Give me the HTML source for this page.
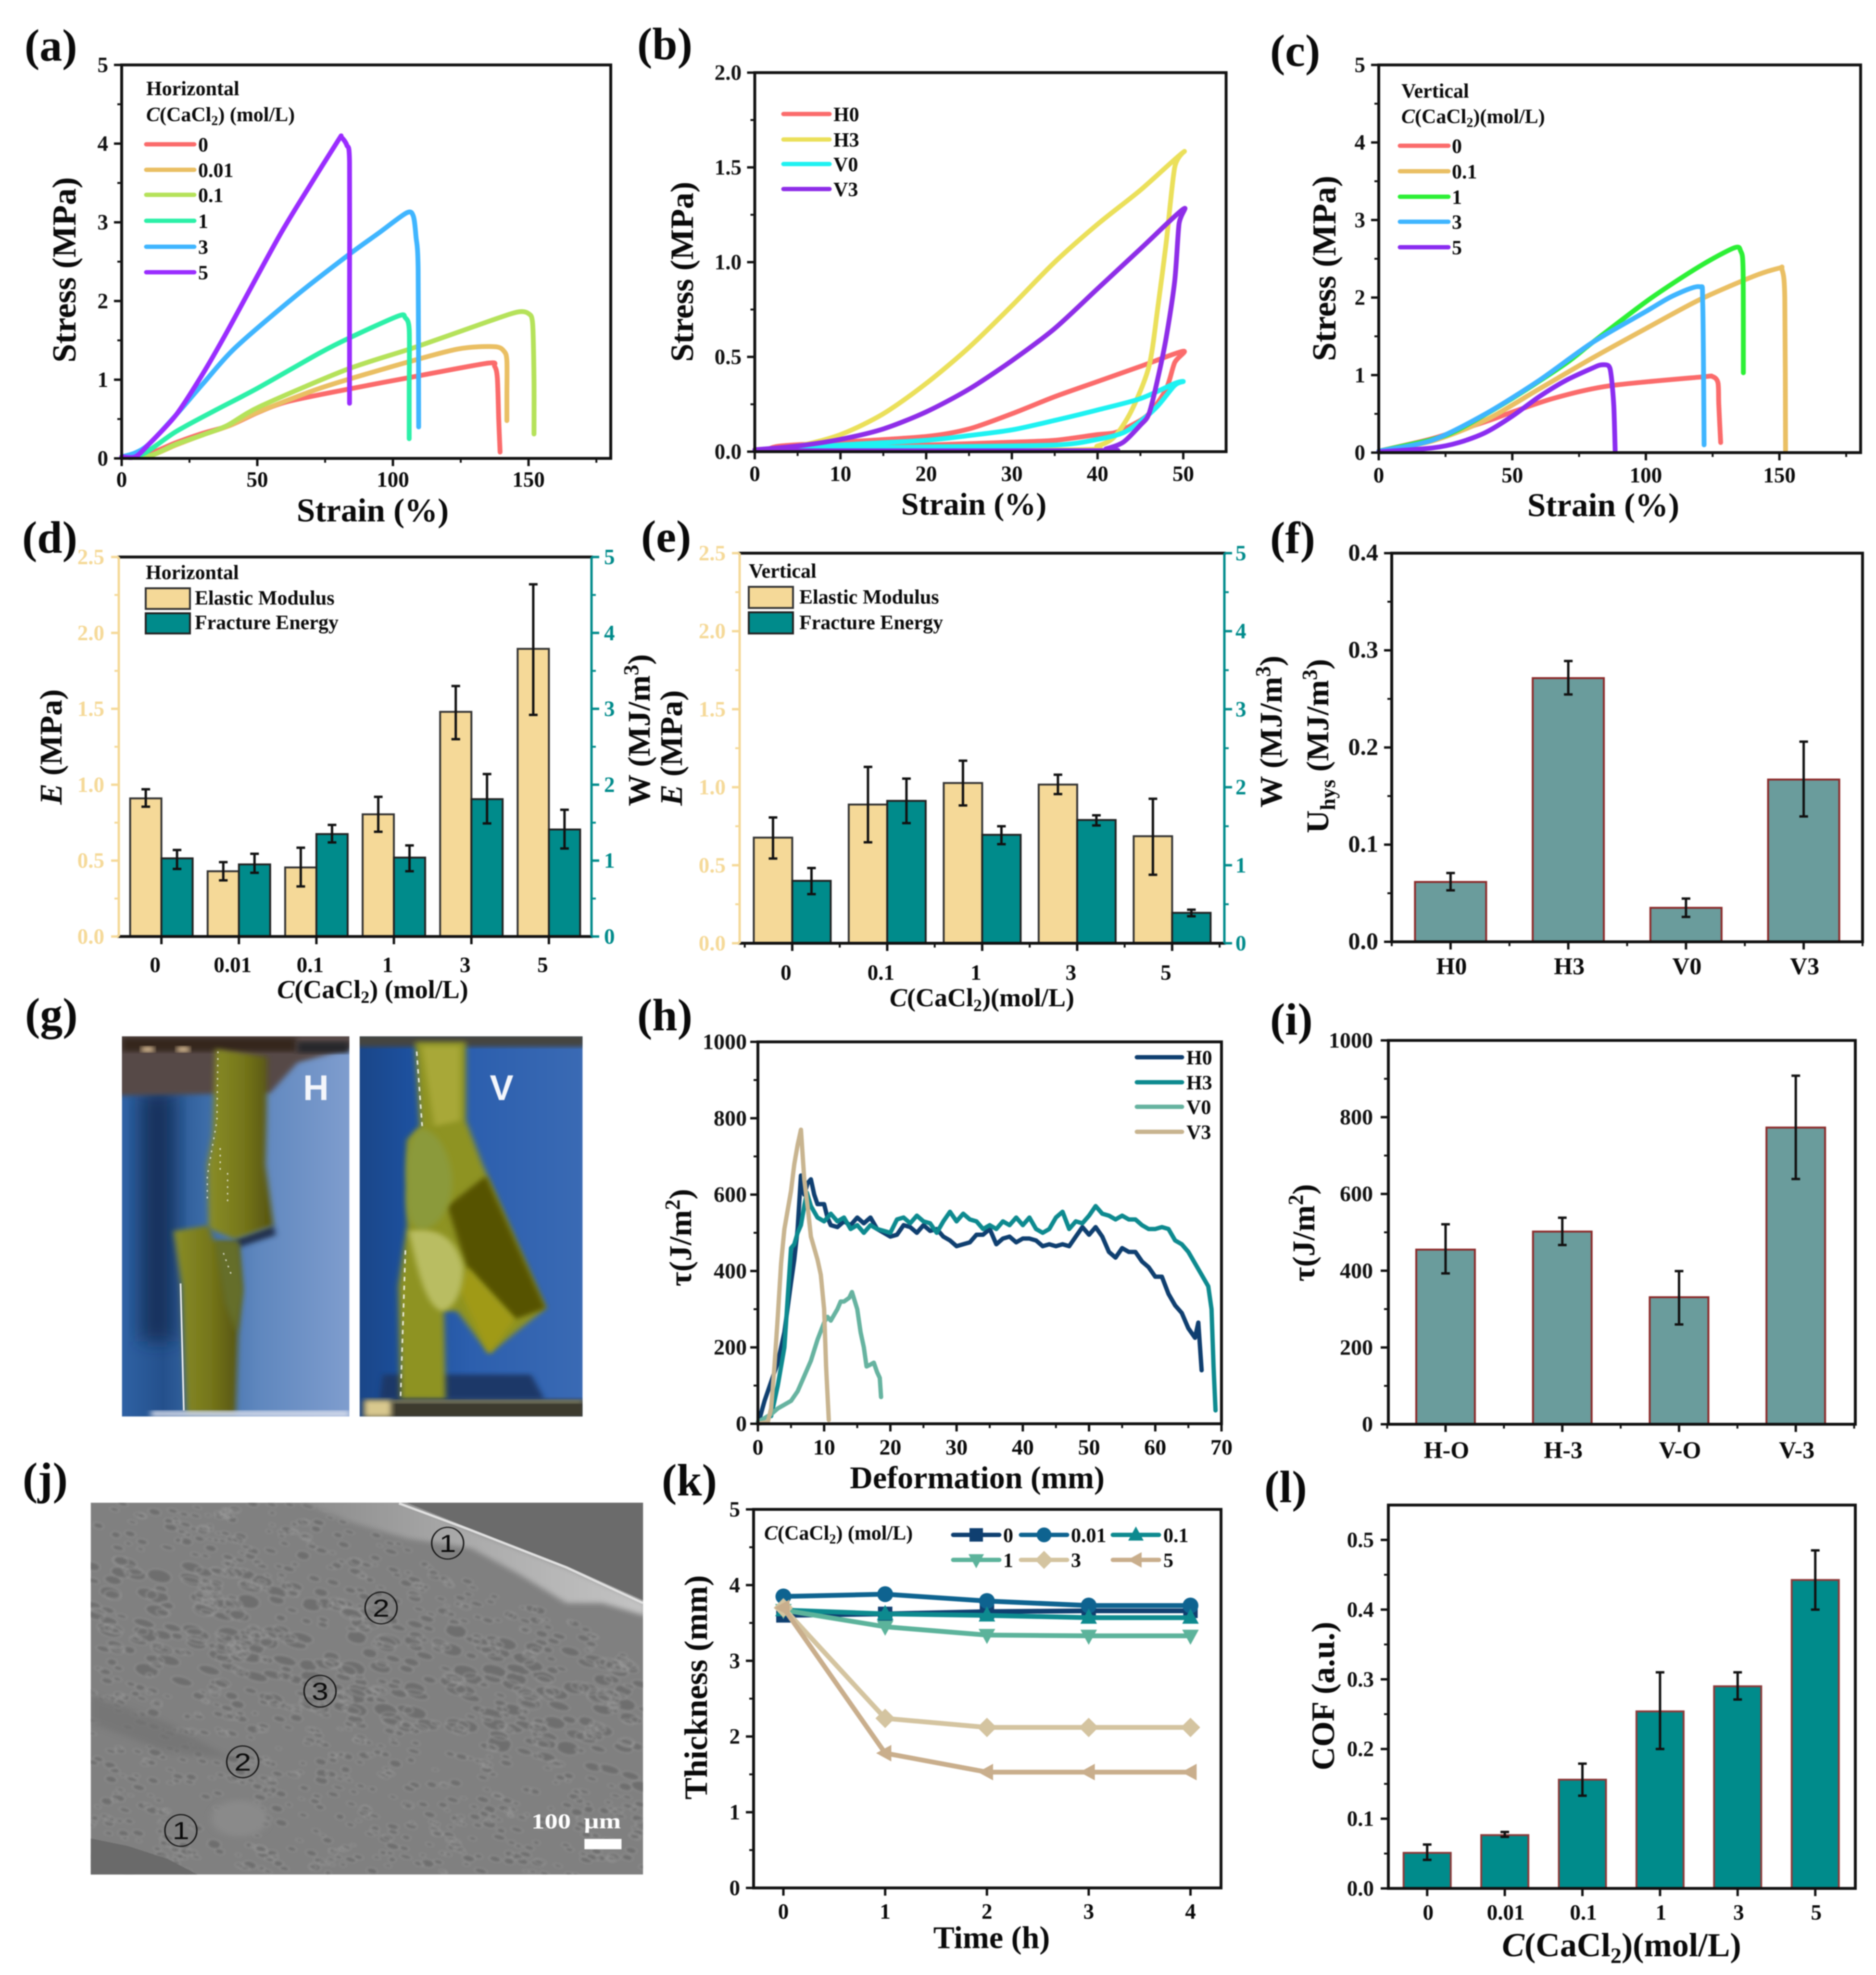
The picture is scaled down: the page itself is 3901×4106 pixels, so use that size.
<!DOCTYPE html>
<html lang="en">
<head>
<meta charset="utf-8">
<title>Mechanical properties of CaCl2 treated hydrogels</title>
<style>
html,body{margin:0;padding:0;background:#fff;}
#figure{display:block;width:3901px;height:4106px;filter:blur(1.2px);}
text{font-family:"Liberation Serif","DejaVu Serif",serif;font-weight:bold;fill:#0a0a0a;}
.pl{font-size:94px;}
.at{font-size:66px;}
.lg{font-size:42px;}
</style>
</head>
<body>
<svg id="figure" xmlns="http://www.w3.org/2000/svg" width="3901" height="4106" viewBox="0 0 3901 4106">
<defs>
<linearGradient id="hBg" x1="0" x2="1" y1="0" y2="0"><stop offset="0" stop-color="#2f62a4"/><stop offset=".18" stop-color="#24508c"/><stop offset=".35" stop-color="#3a6aa6"/><stop offset=".6" stop-color="#5f87be"/><stop offset="1" stop-color="#7f9dce"/></linearGradient>
<linearGradient id="vBg" x1="0" x2="1" y1="0" y2="0"><stop offset="0" stop-color="#1a4688"/><stop offset=".2" stop-color="#1c4f9c"/><stop offset=".5" stop-color="#2c5fae"/><stop offset="1" stop-color="#3a6ab4"/></linearGradient>
<linearGradient id="oliveH" x1="0" x2="1" y1="0" y2="0"><stop offset="0" stop-color="#8a8e28"/><stop offset=".55" stop-color="#75761a"/><stop offset="1" stop-color="#54510e"/></linearGradient>
<linearGradient id="semEdge" x1="0" x2="1" y1="0" y2="0"><stop offset="0" stop-color="#8a8a8a"/><stop offset=".45" stop-color="#a8a8a8"/><stop offset="1" stop-color="#c4c4c4"/></linearGradient>
<filter id="soft" x="-15%" y="-15%" width="130%" height="130%"><feGaussianBlur stdDeviation="9"/></filter>
<filter id="softBig" x="-40%" y="-40%" width="180%" height="180%"><feGaussianBlur stdDeviation="30"/></filter>
<filter id="semBlur" x="-5%" y="-5%" width="110%" height="110%"><feGaussianBlur stdDeviation="3"/></filter>
<filter id="semBlur2" x="-10%" y="-10%" width="120%" height="120%"><feGaussianBlur stdDeviation="8"/></filter>
<clipPath id="clipH"><rect x="80" y="95" width="706" height="1377"/></clipPath>
<clipPath id="clipV"><rect x="818" y="95" width="692" height="1377"/></clipPath>
<clipPath id="clipSem"><rect x="107" y="110" width="1385" height="1148"/></clipPath>
</defs>

<!-- panel letters -->
<text class="pl" x="51" y="126">(a)</text>
<text class="pl" x="1325" y="123">(b)</text>
<text class="pl" x="2641" y="137">(c)</text>
<text class="pl" x="46" y="1149">(d)</text>
<text class="pl" x="1333" y="1147">(e)</text>
<text class="pl" x="2641" y="1150">(f)</text>
<text class="pl" x="52" y="2140">(g)</text>
<text class="pl" x="1325" y="2142">(h)</text>
<text class="pl" x="2641" y="2151">(i)</text>
<text class="pl" x="47" y="3106">(j)</text>
<text class="pl" x="1376" y="3109">(k)</text>
<text class="pl" x="2629" y="3123">(l)</text>

<!-- photo panel g -->
<g transform="translate(200 2100) scale(.6698 .574)">
<g clip-path="url(#clipH)">
<rect x="80" y="95" width="706" height="1377" fill="url(#hBg)"/>
<rect x="140" y="300" width="100" height="900" fill="#15305c" filter="url(#softBig)"/>
<polygon points="60,80 800,80 800,135 625,190 540,300 60,310" fill="#564846" filter="url(#soft)"/>
<rect x="80" y="100" width="540" height="50" fill="#34261f" filter="url(#soft)"/>
<rect x="625" y="115" width="161" height="40" fill="#26252a" filter="url(#soft)"/>
<rect x="140" y="132" width="40" height="20" fill="#e2c49a" filter="url(#soft)"/>
<rect x="250" y="132" width="40" height="20" fill="#e2c49a" filter="url(#soft)"/>
<polygon points="430,830 550,780 558,815 440,860" fill="#22304f" filter="url(#soft)"/>
<polygon points="370,140 530,170 528,400 525,560 550,780 430,830 350,790 345,560 362,450" fill="url(#oliveH)" filter="url(#soft)"/>
<polygon points="240,800 350,780 365,835 440,840 450,1000 440,1170 432,1460 280,1460 265,1000" fill="url(#oliveH)" filter="url(#soft)"/>
<polygon points="370,840 440,840 455,1020 435,1170 400,1060" fill="#656e2a" filter="url(#soft)"/>
<path d="M378 150 L375 400 L345 600 L345 690 M385 500 L385 580 M408 590 L408 700 M395 880 L420 960" fill="none" stroke="#fff" stroke-width="4" stroke-dasharray="6 18" opacity=".8"/>
<path d="M262 990 L272 1450" fill="none" stroke="#f4f4f4" stroke-width="5"/>
<rect x="170" y="1452" width="616" height="20" fill="#dfe2ee" filter="url(#soft)"/>
</g>
</g>
<g transform="translate(200 2100) scale(.6698 .574)">
<g clip-path="url(#clipV)">
<rect x="818" y="95" width="692" height="1377" fill="url(#vBg)"/>
<rect x="800" y="85" width="720" height="48" fill="#45453f" filter="url(#soft)"/>
<polygon points="890,1320 1350,1320 1392,1410 880,1410" fill="#1d3768" filter="url(#soft)"/>
<polygon points="990,115 1148,115 1148,400 1200,560 1395,1080 1220,1245 1120,1090 1080,1090 1085,1410 945,1410 938,1000 965,780 965,470 1005,420" fill="#8e9322" filter="url(#soft)"/>
<polygon points="1010,130 1130,130 1130,400 1050,420" fill="#a8a838" filter="url(#soft)"/>
<polygon points="1090,710 1210,600 1395,1080 1300,1120 1150,930" fill="#565305" filter="url(#soft)"/>
<polygon points="1130,1020 1150,930 1300,1120 1220,1245" fill="#a09a12" filter="url(#soft)"/>
<path d="M1010 430 C1075 440 1110 560 1105 640 C1100 720 1060 790 1010 795 C970 790 960 720 965 640 C960 560 965 450 1010 430 Z" fill="#8b9a3a" filter="url(#soft)"/>
<path d="M970 800 C1040 790 1110 800 1140 930 C1140 1020 1110 1085 1070 1090 C1020 1060 1000 950 970 800 Z" fill="#b9bd62" filter="url(#soft)"/>
<path d="M995 150 L1012 420 M960 870 L945 1400" fill="none" stroke="#fff" stroke-width="5" stroke-dasharray="16 16" opacity=".85"/>
<rect x="832" y="1412" width="690" height="70" fill="#3c3a2e" filter="url(#soft)"/>
<rect x="832" y="1412" width="85" height="62" fill="#d8c88e" filter="url(#soft)"/>
<rect x="917" y="1412" width="593" height="12" fill="#8f8a62" filter="url(#soft)"/>
</g>
</g>
<text x="657" y="2287" text-anchor="middle" style="font-family:'Liberation Sans',sans-serif;font-size:74px;fill:#f4f6fb">H</text>
<text x="1043" y="2287" text-anchor="middle" style="font-family:'Liberation Sans',sans-serif;font-size:74px;fill:#f4f6fb">V</text>

<!-- SEM panel j -->
<g transform="translate(100 3050) scale(.8292 .6734)">
<g clip-path="url(#clipSem)">
<rect x="107" y="110" width="1385" height="1148" fill="#808080"/>
<g id="semTexture" filter="url(#semBlur)"></g>
<polygon points="620,100 880,100 1050,190 1300,310 1500,420 1500,460 1390,420 1300,420 1180,330 1060,250 900,220 760,170" fill="url(#semEdge)" filter="url(#semBlur2)"/>
<polygon points="880,100 1500,100 1500,415 1300,305 1050,185" fill="#6b6b6b"/>
<polyline points="880,112 1050,190 1300,310 1492,420" fill="none" stroke="#e0e0e0" stroke-width="7"/>
<polygon points="100,1145 200,1170 300,1210 385,1265 100,1265" fill="#6a6a6a"/>
<polygon points="107,700 300,790 460,900 300,880 107,790" fill="#737373" filter="url(#soft)" opacity=".75"/>
<ellipse cx="480" cy="1085" rx="70" ry="55" fill="#8a8a8a" filter="url(#soft)"/>
</g>
<g><ellipse cx="1002" cy="235" rx="40" ry="49" fill="none" stroke="#111" stroke-width="3.5"/><text x="1002" y="262" text-anchor="middle" style="font-family:'Liberation Sans',sans-serif;font-weight:normal;font-size:76px">1</text></g>
<g><ellipse cx="835" cy="435" rx="40" ry="49" fill="none" stroke="#111" stroke-width="3.5"/><text x="835" y="462" text-anchor="middle" style="font-family:'Liberation Sans',sans-serif;font-weight:normal;font-size:76px">2</text></g>
<g><ellipse cx="682" cy="692" rx="40" ry="49" fill="none" stroke="#111" stroke-width="3.5"/><text x="682" y="719" text-anchor="middle" style="font-family:'Liberation Sans',sans-serif;font-weight:normal;font-size:76px">3</text></g>
<g><ellipse cx="488" cy="910" rx="40" ry="49" fill="none" stroke="#111" stroke-width="3.5"/><text x="488" y="937" text-anchor="middle" style="font-family:'Liberation Sans',sans-serif;font-weight:normal;font-size:76px">2</text></g>
<g><ellipse cx="333" cy="1122" rx="40" ry="49" fill="none" stroke="#111" stroke-width="3.5"/><text x="333" y="1149" text-anchor="middle" style="font-family:'Liberation Sans',sans-serif;font-weight:normal;font-size:76px">1</text></g>
<rect x="1345" y="1148" width="93" height="32" fill="#fff"/>
<text x="1212" y="1115" style="font-size:66px;fill:#fff" xml:space="preserve">100  μm</text>
</g>

<!-- axis titles -->
<text class="at" style="font-size:69px" x="775" y="1084" text-anchor="middle">Strain (%)</text>
<text class="at" style="font-size:70px" transform="translate(157 561) rotate(-90)" text-anchor="middle">Stress (MPa)</text>
<text class="at" x="2025" y="1070" text-anchor="middle">Strain (%)</text>
<text class="at" style="font-size:68px" transform="translate(1441 565) rotate(-90)" text-anchor="middle">Stress (MPa)</text>
<text class="at" style="font-size:69px" x="3334" y="1073" text-anchor="middle">Strain (%)</text>
<text class="at" style="font-size:70px" transform="translate(2777 558) rotate(-90)" text-anchor="middle">Stress (MPa)</text>

<text x="775" y="2075" text-anchor="middle" style="font-size:54px"><tspan font-style="italic">C</tspan>(CaCl<tspan dy="10" font-size="36">2</tspan><tspan dy="-10">) (mol/L)</tspan></text>
<text class="at" transform="translate(128 1553) rotate(-90)" text-anchor="middle"><tspan font-style="italic">E</tspan> (MPa)</text>
<text class="at" transform="translate(1351 1518) rotate(-90)" text-anchor="middle">W (MJ/m<tspan dy="-24" font-size="44">3</tspan><tspan dy="24">)</tspan></text>
<text x="2042" y="2092" text-anchor="middle" style="font-size:54px"><tspan font-style="italic">C</tspan>(CaCl<tspan dy="10" font-size="36">2</tspan><tspan dy="-10">)(mol/L)</tspan></text>
<text class="at" transform="translate(1418 1555) rotate(-90)" text-anchor="middle"><tspan font-style="italic">E</tspan> (MPa)</text>
<text class="at" transform="translate(2665 1521) rotate(-90)" text-anchor="middle">W (MJ/m<tspan dy="-24" font-size="44">3</tspan><tspan dy="24">)</tspan></text>
<text class="at" transform="translate(2762 1551) rotate(-90)" text-anchor="middle">U<tspan dy="14" font-size="44">hys</tspan><tspan dy="-14"> (MJ/m</tspan><tspan dy="-24" font-size="44">3</tspan><tspan dy="24">)</tspan></text>

<text class="at" x="2032" y="3094" text-anchor="middle">Deformation (mm)</text>
<text class="at" transform="translate(1437 2573) rotate(-90)" text-anchor="middle">τ(J/m<tspan dy="-24" font-size="44">2</tspan><tspan dy="24">)</tspan></text>
<text class="at" transform="translate(2733 2563) rotate(-90)" text-anchor="middle">τ(J/m<tspan dy="-24" font-size="44">2</tspan><tspan dy="24">)</tspan></text>
<text class="at" x="2062" y="4050" text-anchor="middle">Time (h)</text>
<text transform="translate(1470 3508) rotate(-90)" text-anchor="middle" style="font-size:68px">Thickness (mm)</text>
<text x="3372" y="4067" text-anchor="middle" style="font-size:70px"><tspan font-style="italic">C</tspan>(CaCl<tspan dy="14" font-size="46">2</tspan><tspan dy="-14">)(mol/L)</tspan></text>
<text transform="translate(2774 3526) rotate(-90)" text-anchor="middle" style="font-size:68px">COF (a.u.)</text>

<g id="charts"></g>

<!-- legends -->
<g>
<text class="lg" x="304" y="198">Horizontal</text>
<text class="lg" x="304" y="252"><tspan font-style="italic">C</tspan>(CaCl<tspan dy="8" font-size="28">2</tspan><tspan dy="-8">) (mol/L)</tspan></text>
</g>
<g>
<text class="lg" x="2914" y="203">Vertical</text>
<text class="lg" x="2914" y="256"><tspan font-style="italic">C</tspan>(CaCl<tspan dy="8" font-size="28">2</tspan><tspan dy="-8">)(mol/L)</tspan></text>
</g>
<g>
<text class="lg" x="303" y="1204">Horizontal</text>
<rect x="303" y="1223" width="92" height="43" fill="#f5d998" stroke="#333" stroke-width="4"/>
<rect x="303" y="1275" width="92" height="42" fill="#008b8b" stroke="#222" stroke-width="4"/>
<text class="lg" x="405" y="1257">Elastic Modulus</text>
<text class="lg" x="405" y="1308">Fracture Energy</text>
</g>
<g>
<text class="lg" x="1557" y="1201">Vertical</text>
<rect x="1557" y="1220" width="92" height="44" fill="#f5d998" stroke="#333" stroke-width="4"/>
<rect x="1557" y="1273" width="92" height="44" fill="#008b8b" stroke="#222" stroke-width="4"/>
<text class="lg" x="1662" y="1255">Elastic Modulus</text>
<text class="lg" x="1662" y="1308">Fracture Energy</text>
</g>
<text class="lg" x="1589" y="3201"><tspan font-style="italic">C</tspan>(CaCl<tspan dy="8" font-size="28">2</tspan><tspan dy="-8">) (mol/L)</tspan></text>
</svg>

<script>
/* ---------- panel (a) ---------- */
const aXTicks=[0,50,100,150];
const aYTicks=[0,1,2,3,4,5];
const aSeriesNames=['0','0.01','0.1','1','3','5'];
const aStrain0=[0,10,20,30,40,50,61,82,108,135,137.5,138.5,139,139.5];
const aStress0=[0.02,0.06,0.2,0.32,0.42,0.58,0.72,0.87,1.04,1.21,1.17,1.02,0.5,0.08];
const aStrain001=[0,10,20,30,40,49,73,102,124,137.5,141,142,142,142];
const aStress001=[0.02,0.03,0.17,0.3,0.42,0.57,0.89,1.19,1.39,1.42,1.36,1.24,0.8,0.48];
const aStrain01=[0,10,20,30,39,51,83,108,136,146,150,151.5,152,152];
const aStress01=[0.02,0.03,0.18,0.3,0.42,0.66,1.13,1.41,1.75,1.86,1.84,1.71,1.0,0.31];
const aStrain1=[0,8,20,35,50,73,84.5,102,104.5,106,106,106];
const aStress1=[0.02,0.06,0.34,0.62,0.89,1.34,1.54,1.81,1.79,1.64,0.9,0.25];
const aStrain3=[0,5,10,20,30,42,64,83,95,105,107.5,108.5,109.3,109.5];
const aStress3=[0.02,0.07,0.18,0.55,0.95,1.41,2.06,2.57,2.87,3.12,3.08,2.82,2.4,0.4];
const aStrain5=[0,5,10,20,30,39,58,70,80,81,83,84,84,84];
const aStress5=[0.02,0.02,0.18,0.55,1.08,1.62,2.82,3.5,4.05,4.08,3.98,3.77,2.2,0.7];

/* ---------- panel (b) ---------- */
const bXTicks=[0,10,20,30,40,50];
const bYTicks=[0,0.5,1,1.5,2];
const bYLabels=['0.0','0.5','1.0','1.5','2.0'];
const bSeriesNames=['H0','H3','V0','V3'];
const bStrainH0=[1.5,3,10,20,25,30,35,40,45,50,49,48,46,44,42,40,35,30,20,10,3];
const bStressH0=[0.01,0.03,0.05,0.08,0.12,0.2,0.29,0.37,0.45,0.53,0.47,0.33,0.2,0.14,0.1,0.09,0.06,0.05,0.035,0.02,0.01];
const bStrainH3=[0,5,10,15,20,25,30,35,40,45,50,49,48,47,46,44,42,40,37,0];
const bStressH3=[0.01,0.03,0.09,0.2,0.36,0.55,0.77,1,1.2,1.38,1.58,1.5,1.1,0.75,0.45,0.22,0.08,0.03,0.01,0.01];
const bStrainV0=[3.5,10,20,25,30,35,40,45,49,50,49,47,45,43,40,35,20,10,3.5];
const bStressV0=[0.01,0.035,0.06,0.085,0.115,0.165,0.22,0.28,0.36,0.37,0.35,0.24,0.16,0.1,0.065,0.035,0.025,0.02,0.01];
const bStrainV3=[0,5,10,15,20,25,30,35,40,45,50,49.5,49,48,47,46,45,43,41,39.5,0];
const bStressV3=[0.01,0.03,0.065,0.12,0.21,0.33,0.48,0.65,0.86,1.07,1.28,1.2,0.9,0.6,0.38,0.2,0.14,0.05,0.015,0.005,0.005];

/* ---------- panel (c) ---------- */
const cXTicks=[0,50,100,150];
const cYTicks=[0,1,2,3,4,5];
const cSeriesNames=['0','0.1','1','3','5'];
const cStrain0=[0,20,40,49,65.4,86,120.6,125,127,127.3,128];
const cStress0=[0.02,0.18,0.4,0.51,0.7,0.86,0.975,0.98,0.9,0.62,0.13];
const cStrain01=[0,20,40,60,80,100,120,140,150,151,152,152.3];
const cStress01=[0.02,0.15,0.42,0.82,1.22,1.6,1.97,2.27,2.38,2.36,2.0,0.03];
const cStrain1=[0,20,30,50,70,80,101,120,133,135.5,136.4,136.5];
const cStress1=[0.02,0.17,0.3,0.7,1.15,1.42,1.97,2.4,2.64,2.6,2.36,1.03];
const cStrain3=[0,20,40,60,80,100,110,120,121.3,121.8];
const cStress3=[0.02,0.16,0.5,0.93,1.42,1.82,2.02,2.14,1.92,0.1];
const cStrain5=[0,20,30,40,50,60,70,80,83,86,87,88,88.5];
const cStress5=[0.01,0.06,0.13,0.26,0.47,0.72,0.93,1.09,1.13,1.12,1.0,0.6,0.03];

/* ---------- panel (d) ---------- */
const dCategories=['0','0.01','0.1','1','3','5'];
const dLeftTicks=[0,0.5,1,1.5,2,2.5];
const dLeftLabels=['0.0','0.5','1.0','1.5','2.0','2.5'];
const dRightTicks=[0,1,2,3,4,5];
const dModulus=[0.91,0.43,0.455,0.805,1.48,1.895];
const dModulusHigh=[0.97,0.49,0.585,0.92,1.65,2.32];
const dModulusLow=[0.855,0.37,0.33,0.69,1.3,1.46];
const dEnergy=[1.03,0.95,1.35,1.04,1.81,1.41];
const dEnergyHigh=[1.14,1.09,1.47,1.2,2.14,1.67];
const dEnergyLow=[0.89,0.84,1.24,0.86,1.49,1.16];

/* ---------- panel (e) ---------- */
const eCategories=['0','0.1','1','3','5'];
const eLeftTicks=[0,0.5,1,1.5,2,2.5];
const eLeftLabels=['0.0','0.5','1.0','1.5','2.0','2.5'];
const eRightTicks=[0,1,2,3,4,5];
const eModulus=[0.677,0.889,1.027,1.017,0.686];
const eModulusHigh=[0.806,1.13,1.17,1.08,0.926];
const eModulusLow=[0.543,0.647,0.883,0.956,0.439];
const eEnergy=[0.8,1.825,1.39,1.58,0.39];
const eEnergyHigh=[0.964,2.11,1.5,1.64,0.43];
const eEnergyLow=[0.63,1.54,1.27,1.51,0.346];

/* ---------- panel (f) ---------- */
const fCategories=['H0','H3','V0','V3'];
const fYTicks=[0,0.1,0.2,0.3,0.4];
const fYLabels=['0.0','0.1','0.2','0.3','0.4'];
const fHysteresis=[0.0616,0.2714,0.035,0.167];
const fHigh=[0.0708,0.289,0.0445,0.206];
const fLow=[0.053,0.2546,0.0256,0.129];

/* ---------- panel (h) ---------- */
const hXTicks=[0,10,20,30,40,50,60,70];
const hYTicks=[0,200,400,600,800,1000];
const hSeriesNames=['H0','H3','V0','V3'];
const hDefH0=[0.2,1,2,3,4,5,5.5,6,6.5,7,7.5,8,8.5,9,10,10.5,11,12,13,14,15,16,17,18,19,20,21,22,23,24,25,26,27,28,29,30,31,32,33,34,35,36,37,38,39,40,41,42,43,44,45,46,47,48,49,50,51,52,53,54,55,56,57,58,59,60,61,62,63,64,65,66,66.5,67];
const hTauH0=[10,60,110,160,240,370,430,510,650,600,630,640,600,575,575,540,520,515,530,520,540,525,540,510,500,490,495,520,515,500,520,505,510,490,480,465,470,475,495,495,510,470,485,490,475,485,485,480,465,470,465,470,465,490,515,495,515,490,450,435,460,450,450,425,410,385,385,340,310,290,250,225,265,140];
const hDefH3=[2,3,4,4.5,5,5.5,6,6.5,7,7.4,8,9,10,11,12,13,14,15,16,17,18,19,20,21,22,23,24,25,26,27,28,29,30,31,32,33,34,35,36,37,38,39,40,41,42,43,44,45,46,47,48,49,50,51,52,53,54,55,56,57,58,59,60,61,62,63,64,65,66,67,68,68.5,68.8,69.1];
const hTauH3=[20,100,200,330,460,470,500,520,570,605,570,540,530,550,530,540,510,520,500,520,510,505,500,535,540,525,545,530,525,500,530,555,530,550,535,530,510,520,510,530,520,540,520,540,510,500,510,540,555,510,530,525,545,570,550,545,535,545,535,535,520,510,510,515,510,480,470,450,420,390,360,300,150,35];
const hDefV0=[0,1,2,3,4,5,6,7,8,9,10,10.5,11,12,12.5,13,13.8,14.2,15,15.5,16,16.4,17,17.5,18,18.4,18.6];
const hTauV0=[5,15,25,40,50,60,85,125,165,220,265,280,270,300,320,320,330,345,300,240,200,150,155,160,135,120,70];
const hDefV3=[0,1.5,2,2.5,3,3.5,4,5,5.5,6,6.5,7,7.5,8,9,9.5,10,10.3,10.7];
const hTauV3=[0,5,40,150,280,420,510,610,680,730,770,640,570,490,430,390,300,150,10];

/* ---------- panel (i) ---------- */
const iCategories=['H-O','H-3','V-O','V-3'];
const iYTicks=[0,200,400,600,800,1000];
const iTau=[455,502,331,773];
const iHigh=[521,538,399,908];
const iLow=[393,467,260,639];

/* ---------- panel (k) ---------- */
const kHours=[0,1,2,3,4];
const kYTicks=[0,1,2,3,4,5];
const kSeriesNames=['0','0.01','0.1','1','3','5'];
const kThick0=[3.6,3.62,3.65,3.66,3.66];
const kThick001=[3.85,3.88,3.79,3.73,3.73];
const kThick01=[3.67,3.62,3.6,3.57,3.57];
const kThick1=[3.67,3.45,3.34,3.33,3.33];
const kThick3=[3.7,2.24,2.12,2.12,2.12];
const kThick5=[3.7,1.78,1.53,1.53,1.53];

/* ---------- panel (l) ---------- */
const lCategories=['0','0.01','0.1','1','3','5'];
const lYTicks=[0,0.1,0.2,0.3,0.4,0.5];
const lYLabels=['0.0','0.1','0.2','0.3','0.4','0.5'];
const lCof=[0.051,0.0765,0.156,0.254,0.29,0.4425];
const lHigh=[0.063,0.081,0.179,0.31,0.31,0.485];
const lLow=[0.041,0.074,0.133,0.2,0.271,0.4];

/* ---------- helpers ---------- */
const NS='http://www.w3.org/2000/svg';
const chartRoot=document.getElementById('charts');

function mk(tag,name,parent,attrs){
  const el=document.createElementNS(NS,tag);
  
  
  for(const k in attrs){ el.setAttribute(k,attrs[k]); }
  parent.appendChild(el);
  return el;
}
function scale(d0,d1,r0,r1){ return v=>r0+(v-d0)/(d1-d0)*(r1-r0); }
function label(name,parent,x,y,str,anchor,size,color){
  const t=mk('text',name,parent,{x:x,y:y,'text-anchor':anchor});
  t.textContent=str;
  t.style.fontSize=size+'px';
  if(color){ t.style.fill=color; }
  return t;
}
function mids(arr){ const o=[]; for(let i=0;i<arr.length-1;i++){ o.push((arr[i]+arr[i+1])/2); } return o; }
function catMinors(n){ const o=[]; for(let i=-0.5;i<n;i+=1){ o.push(i); } return o; }
function hLine(name,g,x1,x2,y,color,w){ return mk('line',name,g,{x1:x1,x2:x2,y1:y,y2:y,stroke:color,'stroke-width':w}); }
function vLine(name,g,x,y1,y2,color,w){ return mk('line',name,g,{x1:x,x2:x,y1:y1,y2:y2,stroke:color,'stroke-width':w}); }

function panel(id,box,xd,yd){
  const g=mk('g','chart-'+id,chartRoot,{});
  return {id:id,g:g,box:box,x:scale(xd[0],xd[1],box.l,box.r),y:scale(yd[0],yd[1],box.b,box.t)};
}
function axisY(p,ticks,labels,opt){
  const o=opt||{};
  const side=o.side||'left';
  const y=o.scale||p.y;
  const color=o.color||'#111';
  const xa=side==='left'?p.box.l:p.box.r;
  const dir=side==='left'?-1:1;
  const size=o.size||45;
  const g=mk('g','y-axis-'+side+'-'+p.id,p.g,{});
  ticks.forEach((v,i)=>{
    hLine('y-tick',g,xa,xa+dir*16,y(v),color,5);
    const lx=o.labelX;
    label('y-tick-label',g,lx,y(v)+15,labels?labels[i]:String(v),side==='left'?'end':'start',size,o.labelColor||color);
  });
  mids(ticks).forEach(v=>{ hLine('y-minor-tick',g,xa,xa+dir*9,y(v),color,4); });
}
function axisX(p,ticks,labels,opt){
  const o=opt||{};
  const g=mk('g','x-axis-'+p.id,p.g,{});
  const size=o.size||45;
  const dx=o.labelDx||0;
  ticks.forEach((v,i)=>{
    vLine('x-tick',g,p.x(v),p.box.b,p.box.b+16,'#111',5);
    label('x-tick-label',g,p.x(v)+dx,o.labelY,labels?labels[i]:String(v),'middle',size);
  });
  (o.minors||[]).forEach(v=>{
    vLine('x-minor-tick',g,p.x(v),p.box.b,p.box.b+9,'#111',4);
  });
}
function frame(p,opt){
  const o=opt||{};
  const b=p.box;
  const g=mk('g','plot-frame-'+p.id,p.g,{});
  hLine('frame-top',g,b.l-3,b.r+3,b.t,'#111',6);
  hLine('frame-bottom',g,b.l-3,b.r+3,b.b,'#111',6);
  vLine('frame-left',g,b.l,b.t,b.b,o.left||'#111',o.left?5:6);
  vLine('frame-right',g,b.r,b.t,b.b,o.right||'#111',o.right?5:6);
}
function curve(p,xs,ys,color,w,name){
  const pts=xs.map((v,i)=>p.x(v).toFixed(1)+','+p.y(ys[i]).toFixed(1)).join(' ');
  return mk('polyline',name,p.g,{points:pts,fill:'none',stroke:color,'stroke-width':w,'stroke-linejoin':'round','stroke-linecap':'round'});
}
function smoothCurve(p,xs,ys,color,w,name){
  const P=xs.map((v,i)=>[p.x(v),p.y(ys[i])]);
  let d='M'+P[0][0].toFixed(1)+' '+P[0][1].toFixed(1);
  for(let i=0;i<P.length-1;i++){
    const a=P[Math.max(i-1,0)], b=P[i], c=P[i+1], e=P[Math.min(i+2,P.length-1)];
    const k=0.14;
    const c1x=b[0]+(c[0]-a[0])*k, c1y=b[1]+(c[1]-a[1])*k;
    const c2x=c[0]-(e[0]-b[0])*k, c2y=c[1]-(e[1]-b[1])*k;
    d+='C'+c1x.toFixed(1)+' '+c1y.toFixed(1)+' '+c2x.toFixed(1)+' '+c2y.toFixed(1)+' '+c[0].toFixed(1)+' '+c[1].toFixed(1);
  }
  return mk('path',name,p.g,{d:d,fill:'none',stroke:color,'stroke-width':w,'stroke-linejoin':'round','stroke-linecap':'round'});
}
function bars(p,yScale,values,high,low,fill,stroke,width,offset,name,strokeW){
  values.forEach((v,i)=>{
    const cx=p.x(i)+offset;
    const y0=yScale(0);
    const yv=yScale(v);
    mk('rect',name,p.g,{x:cx-width/2,y:yv,width:width,height:y0-yv,fill:fill,stroke:stroke,'stroke-width':strokeW});
  });
  values.forEach((v,i)=>{
    const cx=p.x(i)+offset;
    vLine(name+'-error-bar',p.g,cx,yScale(high[i]),yScale(low[i]),'#111',5);
    hLine(name+'-error-cap-top',p.g,cx-9,cx+9,yScale(high[i]),'#111',5);
    hLine(name+'-error-cap-bottom',p.g,cx-9,cx+9,yScale(low[i]),'#111',5);
  });
}
function legendLine(g,x1,x2,y,color,w,text,tx,name){
  hLine('legend-line-'+name,g,x1,x2,y,color,w).setAttribute('stroke-linecap','round');
  label('legend-label-'+name,g,tx,y+15,text,'start',42);
}
function marker(kind,g,x,y,s,color,name){
  let el;
  if(kind==='square'){ el=mk('rect',name,g,{x:x-s,y:y-s,width:2*s,height:2*s,fill:color}); }
  else if(kind==='circle'){ el=mk('circle',name,g,{cx:x,cy:y,r:s*1.1,fill:color}); }
  else {
    const shapes={
      up:[[0,-1.25],[1.15,.85],[-1.15,.85]],
      down:[[0,1.25],[1.15,-.85],[-1.15,-.85]],
      diamond:[[0,-1.35],[1.35,0],[0,1.35],[-1.35,0]],
      left:[[-1.25,0],[.85,-1.15],[.85,1.15]]
    };
    const pts=shapes[kind].map(q=>(x+q[0]*s).toFixed(1)+','+(y+q[1]*s).toFixed(1)).join(' ');
    el=mk('polygon',name,g,{points:pts,fill:color});
  }
  return el;
}

/* ---------- draw (a) ---------- */
(function(){
  const p=panel('a',{l:253,r:1270,t:135,b:953},[0,180.3],[0,5]);
  const colors=['#fb6b6b','#eabf63','#b5e25a','#2cf0a8','#3fb5ff','#9a2cff'];
  const xs=[aStrain0,aStrain001,aStrain01,aStrain1,aStrain3,aStrain5];
  const ys=[aStress0,aStress001,aStress01,aStress1,aStress3,aStress5];
  xs.forEach((x,i)=>smoothCurve(p,x,ys[i],colors[i],10,'stress-strain-curve-'+aSeriesNames[i]));
  frame(p);
  axisY(p,aYTicks,null,{labelX:225});
  axisX(p,aXTicks,null,{labelY:1012,minors:mids(aXTicks).concat([175])});
  const lg=mk('g','legend-entries-a',p.g,{});
  const ly=[300,353,405,459,513,566];
  aSeriesNames.forEach((n,i)=>legendLine(lg,304,404,ly[i],colors[i],9,n,412,'a-'+n));
})();

/* ---------- draw (b) ---------- */
(function(){
  const p=panel('b',{l:1569.5,r:2549.6,t:151,b:939},[0,55],[0,2]);
  const colors=['#fb6b6b','#ebe05a','#1ef2f2','#8e2de8'];
  const xs=[bStrainH0,bStrainH3,bStrainV0,bStrainV3];
  const ys=[bStressH0,bStressH3,bStressV0,bStressV3];
  xs.forEach((x,i)=>smoothCurve(p,x,ys[i],colors[i],10,'hysteresis-loop-'+bSeriesNames[i]));
  frame(p);
  axisY(p,bYTicks,bYLabels,{labelX:1542});
  axisX(p,bXTicks,null,{labelY:1000,minors:mids(bXTicks)});
  const lg=mk('g','legend-entries-b',p.g,{});
  const ly=[237,290,341,393];
  bSeriesNames.forEach((n,i)=>legendLine(lg,1629,1725,ly[i],colors[i],9,n,1733,'b-'+n));
})();

/* ---------- draw (c) ---------- */
(function(){
  const p=panel('c',{l:2867,r:3869,t:135,b:941},[0,180.4],[0,5]);
  const colors=['#fb6b6b','#eabf63','#2cf035','#3fb5ff','#8a2cf0'];
  const xs=[cStrain0,cStrain01,cStrain1,cStrain3,cStrain5];
  const ys=[cStress0,cStress01,cStress1,cStress3,cStress5];
  xs.forEach((x,i)=>smoothCurve(p,x,ys[i],colors[i],10,'stress-strain-curve-'+cSeriesNames[i]));
  frame(p);
  axisY(p,cYTicks,null,{labelX:2839});
  axisX(p,cXTicks,null,{labelY:1003,minors:mids(cXTicks).concat([175])});
  const lg=mk('g','legend-entries-c',p.g,{});
  const ly=[303,356,409,461,514];
  cSeriesNames.forEach((n,i)=>legendLine(lg,2911,3012,ly[i],colors[i],9,n,3019,'c-'+n));
})();

/* ---------- draw (d) / (e) ---------- */
function dualBar(id,box,xd,cats,leftTicks,leftLabels,rightTicks,mod,modH,modL,en,enH,enL,w,cfg){
  const p=panel(id,box,xd,[0,2.5]);
  const yR=scale(0,5,box.b,box.t);
  bars(p,p.y,mod,modH,modL,'#f5d998','#333',w,-w/2,'elastic-modulus-bar',4);
  bars(p,yR,en,enH,enL,'#008b8b','#222',w,w/2,'fracture-energy-bar',4);
  frame(p,{left:'#f5d998',right:'#008b8b'});
  axisY(p,leftTicks,leftLabels,{labelX:cfg.leftX,color:'#f5d998'});
  axisY(p,rightTicks,null,{side:'right',scale:yR,labelX:cfg.rightX,color:'#008b8b'});
  axisX(p,cats.map((c,i)=>i),cats,{labelY:cfg.labelY,labelDx:-13,minors:cfg.minors?catMinors(cats.length):[]});
}
dualBar('d',{l:247,r:1230,t:1158,b:1947},[-0.55,5.55],dCategories,dLeftTicks,dLeftLabels,dRightTicks,dModulus,dModulusHigh,dModulusLow,dEnergy,dEnergyHigh,dEnergyLow,65,{leftX:217,rightX:1256,labelY:2021,minors:false});
dualBar('e',{l:1538,r:2546,t:1150,b:1961},[-0.554,4.55],eCategories,eLeftTicks,eLeftLabels,eRightTicks,eModulus,eModulusHigh,eModulusLow,eEnergy,eEnergyHigh,eEnergyLow,80,{leftX:1509,rightX:2569,labelY:2037,minors:true});

/* ---------- draw (f) ---------- */
(function(){
  const p=panel('f',{l:2894,r:3873,t:1150,b:1958},[-0.5,3.5],[0,0.4]);
  bars(p,p.y,fHysteresis,fHigh,fLow,'#6a9c9c','#8c2a2a',148,0,'hysteresis-energy-bar',4);
  frame(p);
  axisY(p,fYTicks,fYLabels,{labelX:2866,size:50});
  axisX(p,fCategories.map((c,i)=>i),fCategories,{labelY:2025,labelDx:2,size:50,minors:catMinors(fCategories.length)});
})();

/* ---------- draw (h) ---------- */
(function(){
  const p=panel('h',{l:1576,r:2540,t:2166,b:2960},[0,70],[0,1000]);
  const colors=['#0f3f70','#0d8a8f','#66b3a0','#c8b48f'];
  const xs=[hDefH0,hDefH3,hDefV0,hDefV3];
  const ys=[hTauH0,hTauH3,hTauV0,hTauV3];
  xs.forEach((x,i)=>curve(p,x,ys[i],colors[i],9,'tearing-curve-'+hSeriesNames[i]));
  frame(p);
  axisY(p,hYTicks,null,{labelX:1553,size:46});
  axisX(p,hXTicks,null,{labelY:3024,minors:mids(hXTicks),size:46});
  const lg=mk('g','legend-entries-h',p.g,{});
  const ly=[2198,2250,2301,2353];
  hSeriesNames.forEach((n,i)=>legendLine(lg,2364,2458,ly[i],colors[i],9,n,2467,'h-'+n));
})();

/* ---------- draw (i) ---------- */
(function(){
  const p=panel('i',{l:2887,r:3858,t:2163,b:2961},[-0.49,3.51],[0,1000]);
  bars(p,p.y,iTau,iHigh,iLow,'#6a9c9c','#8c2a2a',122,0,'toughness-bar',4);
  frame(p);
  axisY(p,iYTicks,null,{labelX:2855,size:46});
  axisX(p,iCategories.map((c,i)=>i),iCategories,{labelY:3031,labelDx:2,size:50,minors:catMinors(iCategories.length)});
})();

/* ---------- draw (k) ---------- */
(function(){
  const p=panel('k',{l:1567,r:2539,t:3138,b:3925},[-0.293,4.3],[0,5]);
  const colors=['#0f3f70','#0e6390','#0d8a8f','#5cb39b','#d4c4a0','#c9ae8c'];
  const kinds=['square','circle','up','down','diamond','left'];
  const ys=[kThick0,kThick001,kThick01,kThick1,kThick3,kThick5];
  ys.forEach((arr,i)=>{
    curve(p,kHours,arr,colors[i],10,'thickness-line-'+kSeriesNames[i]);
    arr.forEach((v,j)=>{ marker(kinds[i],p.g,p.x(kHours[j]),p.y(v),15,colors[i],'thickness-point-'+kSeriesNames[i]); });
  });
  frame(p);
  axisY(p,kYTicks,null,{labelX:1539});
  axisX(p,kHours,null,{labelY:3989});
  const lg=mk('g','legend-entries-k',p.g,{});
  const lx=[[1982,2078,2086],[2123,2219,2227],[2314,2410,2419]];
  kSeriesNames.forEach((n,i)=>{
    const c=lx[i%3];
    const y=i<3?3191:3243;
    legendLine(lg,c[0],c[1],y,colors[i],9,n,c[2],'k-'+n);
    marker(kinds[i],lg,(c[0]+c[1])/2,y,14,colors[i],'legend-marker-k-'+n);
  });
})();

/* ---------- draw (l) ---------- */
(function(){
  const p=panel('l',{l:2887,r:3858,t:3129,b:3926},[-0.5,5.516],[0,0.55]);
  bars(p,p.y,lCof,lHigh,lLow,'#008b8b','#8c3a3a',98,0,'cof-bar',4);
  frame(p);
  axisY(p,lYTicks,lYLabels,{labelX:2857});
  axisX(p,lCategories.map((c,i)=>i),lCategories,{labelY:3991,labelDx:2});
})();

/* ---------- SEM texture (decorative, not chart data) ---------- */
(function(){
  const host=document.getElementById('semTexture');
  let seed=20231;
  function rnd(){ seed=(seed*1103515245+12345)&0x7fffffff; return seed/0x7fffffff; }
  let d='';
  const rot=20, c=Math.cos(rot*Math.PI/180), s=Math.sin(rot*Math.PI/180);
  for(let i=0;i<1300;i++){
    const x=107+rnd()*1385, y=110+rnd()*1148;
    if(y<110+(x-760)*0.55+60 && x>760){ continue; }
    const mid=Math.abs((y-110)-(x-107)*0.28-300)<190;
    const rx=(mid?12:7)+rnd()*(mid?20:10), ry=rx*(0.42+rnd()*0.25);
    const dx=rx*c, dy=rx*s;
    d+='M'+(x-dx).toFixed(0)+' '+(y-dy).toFixed(0)+'A'+rx.toFixed(0)+' '+ry.toFixed(0)+' '+rot+' 1 0 '+(x+dx).toFixed(0)+' '+(y+dy).toFixed(0)+'A'+rx.toFixed(0)+' '+ry.toFixed(0)+' '+rot+' 1 0 '+(x-dx).toFixed(0)+' '+(y-dy).toFixed(0)+'Z';
  }
  mk('path','sem-pore-texture',host,{d:d,fill:'#6e6e6e',stroke:'#9c9c9c','stroke-width':2});
})();
</script>
</body>
</html>
